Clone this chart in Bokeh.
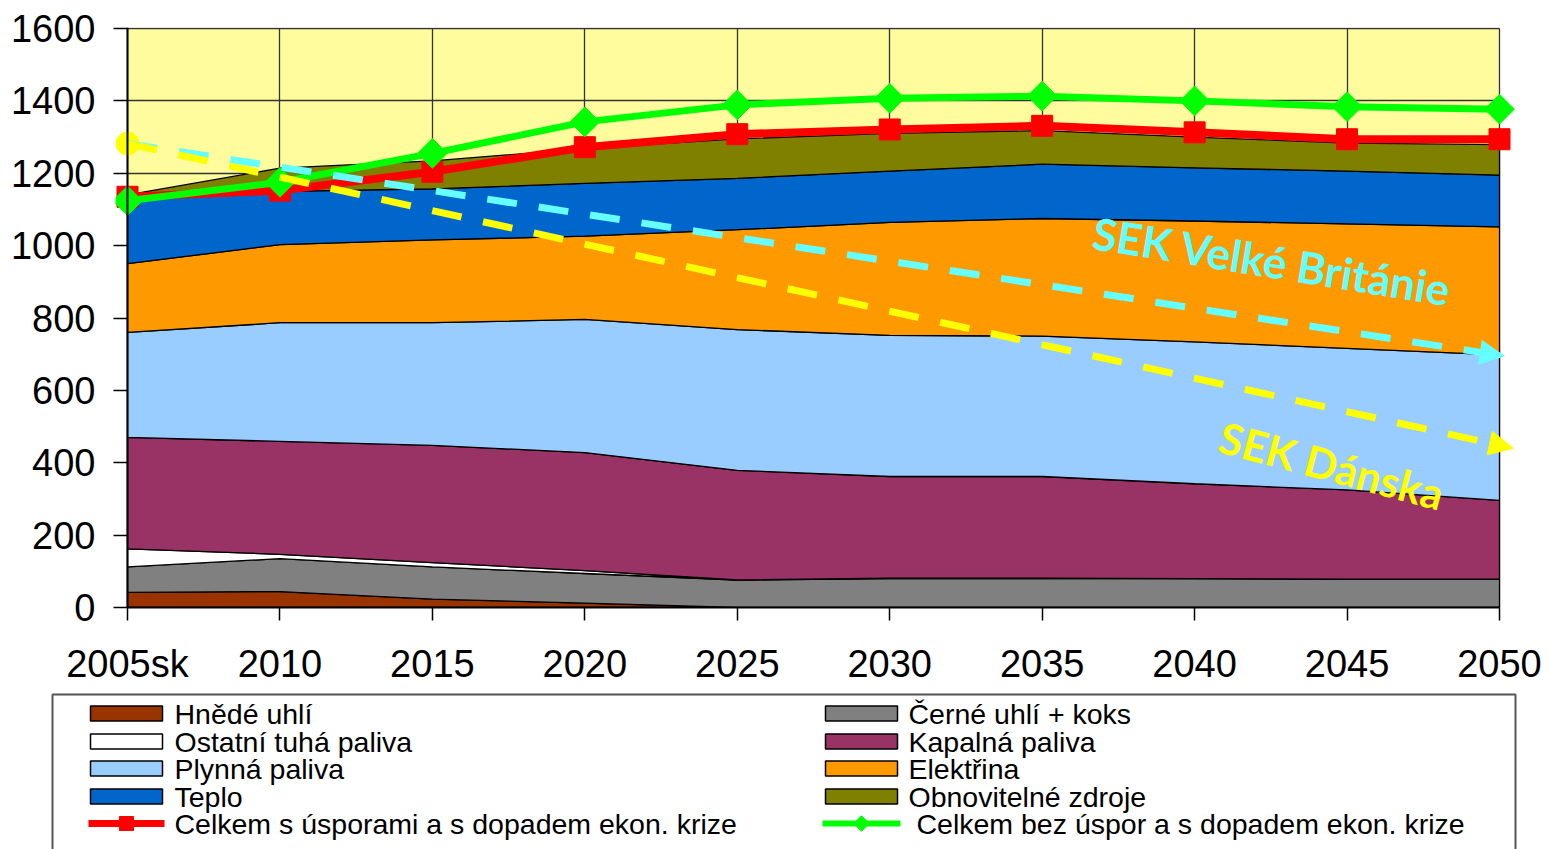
import numpy as np
from bokeh.plotting import figure
from bokeh.layouts import column
from bokeh.models import Range1d, FixedTicker, Arrow, NormalHead, BoxAnnotation, Span
from bokeh.core.properties import value
from bokeh.embed import file_html
from bokeh.resources import INLINE

# Final energy consumption by carrier [PJ]
years = ["2005sk", "2010", "2015", "2020", "2025", "2030", "2035", "2040", "2045", "2050"]

hnede_uhli = [42, 44, 23, 12, 0, 0, 0, 0, 0, 0]
cerne_uhli_koks = [70, 91, 89, 82, 76, 80, 80, 80, 78, 78]
ostatni_tuha = [50, 12, 12, 8, 0, 1, 1, 0, 0, 0]
kapalna = [308, 312, 324, 326, 303, 281, 281, 262, 247, 218]
plynna = [290, 328, 339, 368, 389, 390, 388, 392, 391, 402]
elektrina = [190, 216, 229, 230, 276, 312, 325, 334, 344, 354]
teplo = [180, 147, 141, 146, 142, 142, 150, 147, 146, 143]
obnovitelne = [10, 64, 77, 96, 109, 104, 93, 85, 77, 84]

celkem_s_usporami = [1135, 1152, 1204, 1272, 1308, 1321, 1331, 1313, 1294, 1294]
celkem_bez_uspor = [1124, 1175, 1255, 1342, 1389, 1407, 1413, 1400, 1384, 1377]

# Reference trajectories (start, end)
sek_velka_britanie = [1282, 695]
sek_dansko = [1282, 440]

y_ticks = list(range(0, 1601, 200))
Y_MAX = 1600

layers = [
    ("Hnědé uhlí", hnede_uhli, "#993300"),
    ("Černé uhlí + koks", cerne_uhli_koks, "#808080"),
    ("Ostatní tuhá paliva", ostatni_tuha, "#FFFFFF"),
    ("Kapalná paliva", kapalna, "#993366"),
    ("Plynná paliva", plynna, "#99CCFF"),
    ("Elektřina", elektrina, "#FF9900"),
    ("Teplo", teplo, "#0066CC"),
    ("Obnovitelné zdroje", obnovitelne, "#808000"),
]

# page geometry (px)
W = 1549
MAIN_H = 692
LEG_H = 849 - MAIN_H
AX_L, AX_R = 127, 1499          # where the first / last category sit
FRAME_L, FRAME_R = 115, 1520    # frame a bit wider so edge markers are not cut
PLOT_TOP, PLOT_BOT = 28, 607
FRAME_TOP = 27

n = len(years)
px_per_x = (AX_R - AX_L) / (n - 1)
px_per_y = (PLOT_BOT - PLOT_TOP) / Y_MAX
x_start = -(AX_L - FRAME_L) / px_per_x
x_end = (n - 1) + (FRAME_R - AX_R) / px_per_x
y_end = Y_MAX + (PLOT_TOP - FRAME_TOP) / px_per_y

TICK_FONT = "38px"

p = figure(width=W, height=MAIN_H,
           x_range=Range1d(x_start, x_end), y_range=Range1d(0, y_end),
           output_backend="svg", toolbar_location=None,
           min_border_left=FRAME_L, min_border_right=W - FRAME_R,
           min_border_top=FRAME_TOP, min_border_bottom=MAIN_H - PLOT_BOT,
           background_fill_color="white", border_fill_color="white",
           outline_line_color=None)
p.frame_align = False

# pale yellow plot area
p.add_layout(BoxAnnotation(left=0, right=n - 1, bottom=0, top=Y_MAX,
                           fill_color="#FFFC9E", fill_alpha=1, line_color=None,
                           level="image"))

x = np.arange(n)

# stacked areas
base = np.zeros(n)
for name, vals, color in layers:
    top = base + np.asarray(vals, dtype=float)
    p.patch(np.concatenate([x, x[::-1]]), np.concatenate([top, base[::-1]]),
            fill_color=color, line_color="black", line_width=1.3)
    base = top

# totals
p.line(x, celkem_s_usporami, line_color="#FF0000", line_width=8)
p.scatter(x, celkem_s_usporami, marker="square", size=21,
          fill_color="#FF0000", line_color="#FF0000")
p.line(x, celkem_bez_uspor, line_color="#00FF00", line_width=7)
p.scatter(x, celkem_bez_uspor, marker="square", angle=np.pi / 4, size=21,
          fill_color="#00FF00", line_color="#00FF00")

# SEK trajectories
cyan = "#66FFFF"
yellow = "#FFFF00"
p.add_layout(Arrow(x_start=0, y_start=sek_velka_britanie[0],
                   x_end=9.03, y_end=sek_velka_britanie[1],
                   line_color=cyan, line_width=7, line_dash="30 22",
                   end=NormalHead(size=24, fill_color=cyan, line_color=cyan, line_width=1)))
p.add_layout(Arrow(x_start=0, y_start=sek_dansko[0],
                   x_end=9.09, y_end=sek_dansko[1],
                   line_color=yellow, line_width=7, line_dash="30 22",
                   end=NormalHead(size=24, fill_color=yellow, line_color=yellow, line_width=1)))
p.scatter([0], [sek_dansko[0]], marker="circle", size=23,
          fill_color=yellow, line_color=yellow)

p.text(x=[7.51], y=[958], text=["SEK Velké Británie"], angle=-0.16,
       text_font=value("Lato"), text_font_style="bold", text_font_size="44px",
       text_color=cyan, text_align="center", text_baseline="middle")
p.text(x=[7.90], y=[393], text=["SEK Dánska"], angle=-0.26,
       text_font=value("Lato"), text_font_style="bold", text_font_size="43px",
       text_color=yellow, text_align="center", text_baseline="middle")

# value axis line at the first category
p.add_layout(Span(location=0, dimension="height", line_color="black", line_width=2))

# axes
p.xaxis.ticker = FixedTicker(ticks=list(x))
p.xaxis.major_label_overrides = {int(i): lab for i, lab in zip(x, years)}
p.xaxis.bounds = (0, n - 1)
p.yaxis.ticker = FixedTicker(ticks=y_ticks)
for ax in (p.xaxis[0], p.yaxis[0]):
    ax.axis_line_color = "black"
    ax.axis_line_width = 2
    ax.major_tick_line_color = "black"
    ax.major_tick_line_width = 1.5
    ax.minor_tick_line_color = None
    ax.major_label_text_font = "Liberation Sans"
    ax.major_label_text_font_size = TICK_FONT
    ax.major_label_text_color = "black"
p.xaxis.major_tick_in = 0
p.xaxis.major_tick_out = 13
p.xaxis.major_label_standoff = 22
# y axis sits at the frame edge; its ticks reach in to the value axis line
p.yaxis.axis_line_color = None
p.yaxis.major_tick_in = AX_L - FRAME_L
p.yaxis.major_tick_out = 2
p.yaxis.major_label_standoff = 18

p.xgrid.ticker = FixedTicker(ticks=list(x))
p.ygrid.ticker = FixedTicker(ticks=y_ticks)
p.xgrid.cross_bounds = (0, Y_MAX)
p.ygrid.cross_bounds = (0, n - 1)
for g in (p.xgrid[0], p.ygrid[0]):
    g.grid_line_color = "#333333"
    g.grid_line_width = 1.3

# legend panel
leg = figure(width=W, height=LEG_H, x_range=Range1d(0, W), y_range=Range1d(LEG_H, 0),
             x_axis_type=None, y_axis_type=None,
             output_backend="svg", toolbar_location=None, min_border=0,
             outline_line_color=None, background_fill_color="white",
             border_fill_color="white")
leg.grid.visible = False
leg.frame_align = False

leg.quad(left=[52], right=[1515], top=[2], bottom=[LEG_H + 20],
         fill_color=None, line_color="#555555", line_width=2)

left_col = [layers[0], layers[2], layers[4], layers[6]]
right_col = [layers[1], layers[3], layers[5], layers[7]]
row_y = [21, 49, 76, 104, 131]
LEG_FONT = "28.5px"

for col, gx, tx in ((left_col, 90, 174), (right_col, 825, 908)):
    for (name, _, color), cy in zip(col, row_y):
        leg.quad(left=[gx], right=[gx + 72], top=[cy - 7.5], bottom=[cy + 7.5],
                 fill_color=color, line_color="black", line_width=1.5)
        leg.text(x=[tx], y=[cy], text=[name], text_font=value("Liberation Sans"),
                 text_font_size=LEG_FONT, text_color="black",
                 text_align="left", text_baseline="middle")

cy = row_y[4]
leg.line([88, 164], [cy, cy], line_color="#FF0000", line_width=7)
leg.scatter([126], [cy], marker="square", size=14, fill_color="#FF0000", line_color="#FF0000")
leg.text(x=[174], y=[cy], text=["Celkem s úsporami a s dopadem ekon. krize"],
         text_font=value("Liberation Sans"), text_font_size=LEG_FONT,
         text_color="black", text_align="left", text_baseline="middle")
leg.line([822, 900], [cy, cy], line_color="#00FF00", line_width=6)
leg.scatter([861], [cy], marker="square", angle=np.pi / 4, size=11,
            fill_color="#00FF00", line_color="#00FF00")
leg.text(x=[916], y=[cy], text=["Celkem bez úspor a s dopadem ekon. krize"],
         text_font=value("Liberation Sans"), text_font_size=LEG_FONT,
         text_color="black", text_align="left", text_baseline="middle")

layout = column(p, leg, spacing=0)
open("out.html", "w").write(file_html(layout, INLINE))
